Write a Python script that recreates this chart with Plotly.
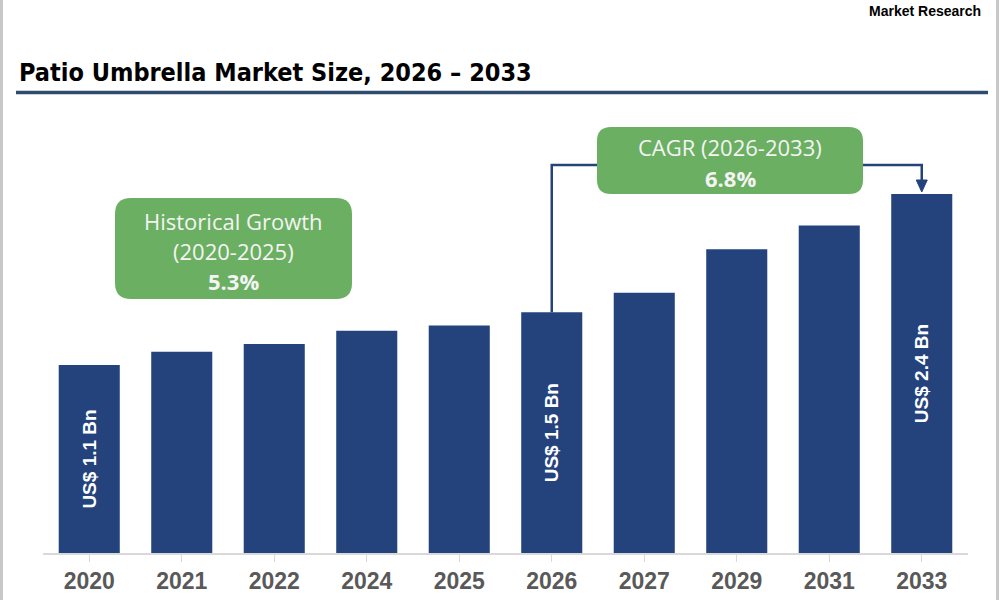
import plotly.graph_objects as go

# ---- data ----
years = ["2020", "2021", "2022", "2024", "2025", "2026", "2027", "2029", "2031", "2033"]
market_size_bn = [1.10, 1.20, 1.26, 1.36, 1.40, 1.50, 1.65, 1.98, 2.16, 2.40]
bar_labels = ["US$ 1.1 Bn", "", "", "", "", "US$ 1.5 Bn", "", "", "", "US$ 2.4 Bn"]
title_text = "Patio Umbrella Market Size, 2026 – 2033"
hist_lines = ["Historical Growth", "(2020-2025)", "<b>5.3%</b>"]
cagr_lines = ["CAGR (2026-2033)", "<b>6.8%</b>"]

# ---- layout constants (pixels) ----
FW, FH = 1000, 600
L, R, T, B = 43, 32, 100, 47
PW = FW - L - R
PH = FH - T - B
Y0 = -0.33                 # value at baseline of the axis
PX_PER_UNIT = 131.5
Y1 = Y0 + PH / PX_PER_UNIT
N = len(years)
CAT_W = PW / N

BAR = "#24437D"
GREEN = "#6BAF62"
LINE_BLUE = "#2F4B6E"


def pxx(x):  # pixel x -> paper
    return (x - L) / PW


def pxy(y):  # pixel y -> paper
    return (FH - B - y) / PH


def dx(x):  # pixel x -> category index
    return (x - L) / CAT_W - 0.5


def dy(y):  # pixel y -> data value
    return Y0 + (FH - B - y) / PX_PER_UNIT


def rounded_rect(x0, y0, x1, y1, r):
    pts = []
    pts.append(f"M {pxx(x0 + r)},{pxy(y0)}")
    pts.append(f"L {pxx(x1 - r)},{pxy(y0)}")
    pts.append(f"Q {pxx(x1)},{pxy(y0)} {pxx(x1)},{pxy(y0 + r)}")
    pts.append(f"L {pxx(x1)},{pxy(y1 - r)}")
    pts.append(f"Q {pxx(x1)},{pxy(y1)} {pxx(x1 - r)},{pxy(y1)}")
    pts.append(f"L {pxx(x0 + r)},{pxy(y1)}")
    pts.append(f"Q {pxx(x0)},{pxy(y1)} {pxx(x0)},{pxy(y1 - r)}")
    pts.append(f"L {pxx(x0)},{pxy(y0 + r)}")
    pts.append(f"Q {pxx(x0)},{pxy(y0)} {pxx(x0 + r)},{pxy(y0)} Z")
    return " ".join(pts)


fig = go.Figure()
fig.add_trace(go.Bar(
    x=list(range(N)),
    y=[v - Y0 for v in market_size_bn],
    base=Y0,
    marker=dict(color=BAR, line=dict(width=0)),
    width=0.66,
    text=bar_labels,
    textposition="inside",
    insidetextanchor="middle",
    textangle=-90,
    textfont=dict(family="Liberation Sans", size=19, color="white", weight="bold"),
    constraintext="none",
    hoverinfo="skip",
))

shapes = []
shapes.append(dict(type="line", xref="paper", yref="paper", x0=pxx(1.5), x1=pxx(1.5), y0=pxy(0), y1=pxy(600),
                   line=dict(color="#C8C8C8", width=3)))
shapes.append(dict(type="line", xref="paper", yref="paper", x0=pxx(997.5), x1=pxx(997.5), y0=pxy(0), y1=pxy(600),
                   line=dict(color="#C8C8C8", width=3)))
shapes.append(dict(type="line", xref="paper", yref="paper", x0=pxx(16), x1=pxx(988), y0=pxy(92.5), y1=pxy(92.5),
                   line=dict(color=LINE_BLUE, width=3.5)))

conn_y = dy(165)
shapes.append(dict(type="path", xref="x", yref="y",
                   path=f"M 5,{market_size_bn[5]} L 5,{conn_y} L {dx(597)},{conn_y}",
                   line=dict(color=BAR, width=2.5)))
tip_y = market_size_bn[9] + 2 / PX_PER_UNIT
head_h = 12 / PX_PER_UNIT
head_w = 5.5 / CAT_W
shapes.append(dict(type="path", xref="x", yref="y",
                   path=f"M {dx(863)},{conn_y} L 9,{conn_y} L 9,{tip_y + head_h}",
                   line=dict(color=BAR, width=2.5)))
shapes.append(dict(type="path", xref="x", yref="y",
                   path=f"M {9 - head_w},{tip_y + head_h} L {9 + head_w},{tip_y + head_h} L 9,{tip_y} Z",
                   fillcolor=BAR, line=dict(color=BAR, width=1)))

shapes.append(dict(type="path", xref="paper", yref="paper", path=rounded_rect(115, 198, 352, 299, 16),
                   fillcolor=GREEN, line=dict(width=0), layer="above"))
shapes.append(dict(type="path", xref="paper", yref="paper", path=rounded_rect(597, 127, 863, 194, 14),
                   fillcolor=GREEN, line=dict(width=0), layer="above"))

annotations = []
annotations.append(dict(text=f"<b>{title_text}</b>", xref="paper", yref="paper", x=pxx(17), y=pxy(73),
                        xanchor="left", yanchor="middle", showarrow=False,
                        font=dict(family="DejaVu Sans Condensed", size=25, color="#000000")))
annotations.append(dict(text="<b>Market Research</b>", xref="paper", yref="paper", x=pxx(983), y=pxy(1),
                        xanchor="right", yanchor="top", showarrow=False,
                        font=dict(family="Liberation Sans", size=14, color="#000000", weight=900)))
box_font = dict(family="Open Sans", size=22, color="#F4F4F4")
for i, t in enumerate(hist_lines):
    annotations.append(dict(text=t, xref="paper", yref="paper", x=pxx(233.5), y=pxy(221 + 30 * i),
                            xanchor="center", yanchor="middle", showarrow=False, font=box_font))
for i, t in enumerate(cagr_lines):
    annotations.append(dict(text=t, xref="paper", yref="paper", x=pxx(730), y=pxy(147 + 31 * i),
                            xanchor="center", yanchor="middle", showarrow=False, font=box_font))

fig.update_layout(
    width=FW, height=FH,
    margin=dict(l=L, r=R, t=T, b=B),
    paper_bgcolor="white", plot_bgcolor="white",
    showlegend=False,
    shapes=shapes,
    annotations=annotations,
    xaxis=dict(
        range=[-0.5, N - 0.5],
        tickmode="array", tickvals=list(range(N)), ticktext=years,
        showgrid=False, zeroline=False, automargin=False,
        showline=True, linecolor="#D9D9D9", linewidth=1.5,
        ticks="outside", tickson="boundaries", ticklen=7, tickcolor="#D9D9D9",
        tickfont=dict(family="Liberation Sans", size=23, color="#595959", weight="bold"),
        fixedrange=True,
    ),
    yaxis=dict(range=[Y0, Y1], visible=False, fixedrange=True, automargin=False),
)

fig.write_html(
    "out.html",
    config={"displayModeBar": False},
    post_script="document.body.style.margin='0px';document.body.style.overflow='hidden';",
)
